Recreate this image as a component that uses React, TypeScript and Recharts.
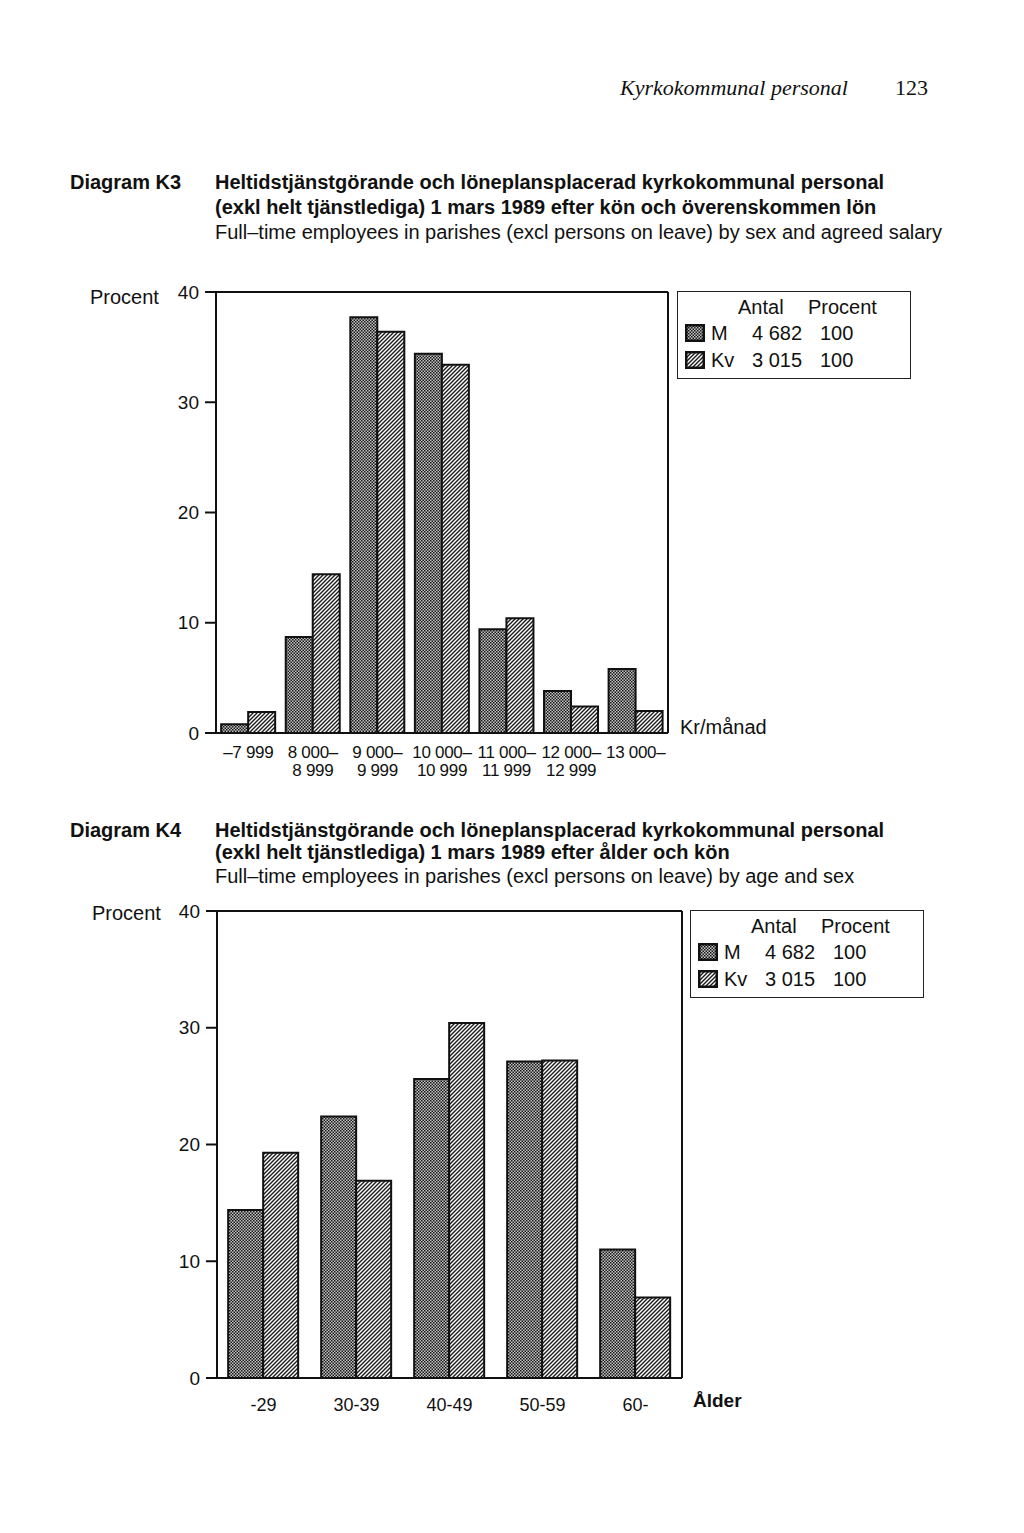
import React from "react";
import { BarChart, Bar, XAxis, YAxis, ReferenceLine } from "recharts";

// Diagram K3: salary bands (kr/månad), percent of each sex
const salaryLine1 = ["–7 999", "8 000–", "9 000–", "10 000–", "11 000–", "12 000–", "13 000–"];
const salaryLine2 = ["", "8 999", "9 999", "10 999", "11 999", "12 999", ""];
const salaryMen = [0.8, 8.7, 37.7, 34.4, 9.4, 3.8, 5.8];
const salaryWomen = [1.9, 14.4, 36.4, 33.4, 10.4, 2.4, 2.0];

// Diagram K4: age groups
const ageGroups = ["-29", "30-39", "40-49", "50-59", "60-"];
const ageMen = [14.4, 22.4, 25.6, 27.1, 11.0];
const ageWomen = [19.3, 16.9, 30.4, 27.2, 6.9];

const yTicks = [0, 10, 20, 30, 40];
const yMax = 40;
const legendRows = [
  { label: "M", antal: "4 682", procent: "100", pattern: "dots" },
  { label: "Kv", antal: "3 015", procent: "100", pattern: "hatch" },
];

const salaryData = salaryLine1.map((l1, i) => ({
  cat: l1 + " " + salaryLine2[i],
  m: salaryMen[i],
  kv: salaryWomen[i],
}));
const ageData = ageGroups.map((g, i) => ({ cat: g, m: ageMen[i], kv: ageWomen[i] }));

const SANS = "'Liberation Sans', Arial, Helvetica, sans-serif";
const SERIF = "'Liberation Serif', 'Times New Roman', serif";
const INK = "#111";

const renderPatterns = (prefix: string) => (
  <defs>
    <pattern id={`${prefix}-dots`} width="3" height="3" patternUnits="userSpaceOnUse">
      <rect width="3" height="3" fill="#c0c0c0" />
      <rect width="1.5" height="1.5" fill="#1a1a1a" />
      <rect x="1.5" y="1.5" width="1.5" height="1.5" fill="#1a1a1a" />
    </pattern>
    <pattern id={`${prefix}-hatch`} width="4" height="4" patternUnits="userSpaceOnUse">
      <rect width="4" height="4" fill="#fff" />
      <path d="M-1,1 L1,-1 M0,4 L4,0 M3,5 L5,3" stroke="#1a1a1a" strokeWidth="1.4" />
    </pattern>
  </defs>
);

const SalaryTick = (props: any) => {
  const { x, y, payload } = props;
  const i = payload.index;
  return (
    <text x={x} y={y} textAnchor="middle" fontFamily={SANS} fontSize={17} letterSpacing={-0.3} fill={INK}>
      <tspan x={x} dy={25}>{salaryLine1[i]}</tspan>
      <tspan x={x} dy={18}>{salaryLine2[i]}</tspan>
    </text>
  );
};

const AgeTick = (props: any) => {
  const { x, y, payload } = props;
  return (
    <text x={x} y={y + 33} textAnchor="middle" fontFamily={SANS} fontSize={18} fill={INK}>
      {payload.value}
    </text>
  );
};

const Txt = ({ x, y, size = 20, bold = false, italic = false, serif = false, children, style }: any) => (
  <div
    style={{
      position: "absolute",
      left: x,
      top: y - size / 2,
      fontSize: size,
      lineHeight: `${size}px`,
      fontFamily: serif ? SERIF : SANS,
      fontWeight: bold ? 700 : 400,
      fontStyle: italic ? "italic" : "normal",
      color: INK,
      whiteSpace: "nowrap",
      ...style,
    }}
  >
    {children}
  </div>
);

const Legend = ({ x, y, prefix }: { x: number; y: number; prefix: string }) => (
  <div
    style={{
      position: "absolute",
      left: x,
      top: y,
      width: 234,
      height: 88,
      border: "1.5px solid #222",
      boxSizing: "border-box",
    }}
  >
    <Txt x={60} y={15}>Antal</Txt>
    <Txt x={130} y={15}>Procent</Txt>
    {legendRows.map((r, i) => (
      <React.Fragment key={r.label}>
        <svg
          width={20}
          height={18}
          style={{ position: "absolute", left: 7, top: 32 + i * 27 }}
        >
          {renderPatterns(`${prefix}-lg${i}`)}
          <rect
            x={1.25}
            y={1.25}
            width={17.5}
            height={15.5}
            fill={`url(#${prefix}-lg${i}-${r.pattern})`}
            stroke={INK}
            strokeWidth={2.5}
          />
        </svg>
        <Txt x={33} y={41 + i * 27}>{r.label}</Txt>
        <Txt x={74} y={41 + i * 27}>{r.antal}</Txt>
        <Txt x={142} y={41 + i * 27}>{r.procent}</Txt>
      </React.Fragment>
    ))}
  </div>
);

const axisLine = { stroke: INK, strokeWidth: 2 };

export default function App() {
  return (
    <div
      style={{
        position: "absolute",
        left: 0,
        top: 0,
        width: 1024,
        height: 1533,
        background: "#fff",
        overflow: "hidden",
      }}
    >
      {/* running header */}
      <Txt x={620} y={88} size={22} italic serif>Kyrkokommunal personal</Txt>
      <Txt x={895} y={88} size={22} serif>123</Txt>

      {/* Diagram K3 */}
      <Txt x={70} y={182} bold>Diagram K3</Txt>
      <Txt x={215} y={182} bold>Heltidstjänstgörande och löneplansplacerad kyrkokommunal personal</Txt>
      <Txt x={215} y={207} bold>(exkl helt tjänstlediga) 1 mars 1989 efter kön och överenskommen lön</Txt>
      <Txt x={215} y={232}>Full–time employees in parishes (excl persons on leave) by sex and agreed salary</Txt>
      <Txt x={90} y={297}>Procent</Txt>
      <Txt x={680} y={727}>Kr/månad</Txt>

      <div style={{ position: "absolute", left: 100, top: 270 }}>
        <BarChart
          width={600}
          height={540}
          data={salaryData}
          margin={{ top: 22, right: 32, left: 0, bottom: 17 }}
          barCategoryGap="8%"
          barGap={0}
        >
          {renderPatterns("k3")}
          <XAxis
            dataKey="cat"
            height={60}
            axisLine={axisLine}
            tickLine={false}
            tickSize={0}
            tickMargin={0}
            interval={0}
            tick={<SalaryTick />}
          />
          <YAxis
            domain={[0, yMax]}
            ticks={yTicks}
            width={116}
            axisLine={axisLine}
            tickLine={{ stroke: INK, strokeWidth: 2 }}
            tickSize={11}
            tickMargin={6}
            tick={{ fontFamily: SANS, fontSize: 19, fill: INK }}
          />
          <ReferenceLine y={yMax} stroke={INK} strokeWidth={2} />
          <ReferenceLine
            x={salaryData[salaryData.length - 1].cat}
            position="end"
            stroke={INK}
            strokeWidth={2}
          />
          <Bar dataKey="m" fill="url(#k3-dots)" stroke={INK} strokeWidth={2} isAnimationActive={false} />
          <Bar dataKey="kv" fill="url(#k3-hatch)" stroke={INK} strokeWidth={2} isAnimationActive={false} />
        </BarChart>
      </div>
      <Legend x={677} y={291} prefix="k3" />

      {/* Diagram K4 */}
      <Txt x={70} y={830} bold>Diagram K4</Txt>
      <Txt x={215} y={830} bold>Heltidstjänstgörande och löneplansplacerad kyrkokommunal personal</Txt>
      <Txt x={215} y={852} bold>(exkl helt tjänstlediga) 1 mars 1989 efter ålder och kön</Txt>
      <Txt x={215} y={876}>Full–time employees in parishes (excl persons on leave) by age and sex</Txt>
      <Txt x={92} y={913}>Procent</Txt>
      <Txt x={693} y={1400} size={19} bold>Ålder</Txt>

      <div style={{ position: "absolute", left: 100, top: 890 }}>
        <BarChart
          width={620}
          height={540}
          data={ageData}
          margin={{ top: 21, right: 38, left: 0, bottom: 12 }}
          barCategoryGap="12%"
          barGap={0}
        >
          {renderPatterns("k4")}
          <XAxis
            dataKey="cat"
            height={40}
            axisLine={axisLine}
            tickLine={false}
            tickSize={0}
            tickMargin={0}
            interval={0}
            tick={<AgeTick />}
          />
          <YAxis
            domain={[0, yMax]}
            ticks={yTicks}
            width={117}
            axisLine={axisLine}
            tickLine={{ stroke: INK, strokeWidth: 2 }}
            tickSize={11}
            tickMargin={6}
            tick={{ fontFamily: SANS, fontSize: 19, fill: INK }}
          />
          <ReferenceLine y={yMax} stroke={INK} strokeWidth={2} />
          <ReferenceLine
            x={ageData[ageData.length - 1].cat}
            position="end"
            stroke={INK}
            strokeWidth={2}
          />
          <Bar dataKey="m" fill="url(#k4-dots)" stroke={INK} strokeWidth={2} isAnimationActive={false} />
          <Bar dataKey="kv" fill="url(#k4-hatch)" stroke={INK} strokeWidth={2} isAnimationActive={false} />
        </BarChart>
      </div>
      <Legend x={690} y={910} prefix="k4" />
    </div>
  );
}
